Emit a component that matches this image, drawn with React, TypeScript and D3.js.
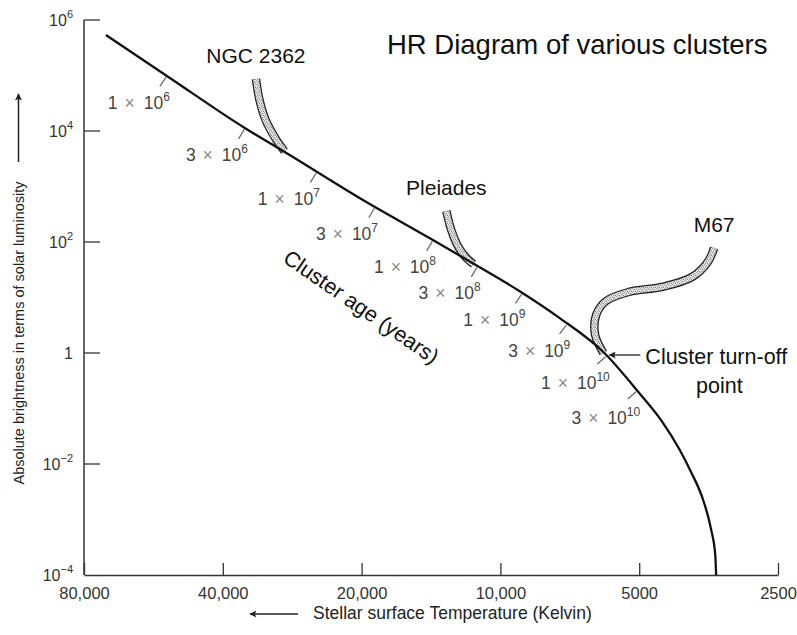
import React, { useRef, useEffect } from "react";
import * as d3 from "d3";

// HR diagram of various clusters, log temperature (reversed) vs log luminosity

const tempTicks = [80000, 40000, 20000, 10000, 5000, 2500];
const tempTickLabels = ["80,000", "40,000", "20,000", "10,000", "5000", "2500"];
const lumTicks = [1e6, 1e4, 1e2, 1, 1e-2, 1e-4];
const lumExponents = ["6", "4", "2", "", "\u22122", "\u22124"];

// main sequence [temperature K, luminosity]
const mainSequence: [number, number][] = [
  [71700, 537000],
  [52100, 90200],
  [35840, 11320],
  [29360, 4190],
  [19700, 548],
  [14250, 118],
  [11500, 41.9],
  [9100, 13.1],
  [7450, 4.3],
  [5950, 1],
  [5000, 0.19],
  [4460, 0.058],
  [4100, 0.019],
  [3860, 0.0072],
  [3630, 0.0022],
  [3490, 0.00065],
  [3420, 0.00023],
  [3405, 0.0001],
];

// cluster branches, from top end down to the main sequence
const ngc2362: [number, number][] = [
  [33900, 86500],
  [33300, 36200],
  [32300, 15800],
  [30600, 6890],
  [29400, 4360],
];
const pleiades: [number, number][] = [
  [13100, 362],
  [12780, 164],
  [12330, 81],
  [11850, 51.5],
  [11440, 40],
];
const m67: [number, number][] = [
  [3440, 78],
  [3550, 43.6],
  [3840, 23.4],
  [4460, 15.5],
  [5260, 12.6],
  [5900, 8.65],
  [6200, 4.84],
  [6230, 2.11],
  [5980, 1],
];
const clusterNames = ["NGC 2362", "Pleiades", "M67"];

// cluster age marks along the main sequence
const ageTemps = [52900, 35800, 25000, 18700, 14000, 11200, 8960, 7160, 5880, 5050];
const ageMantissa = ["1", "3", "1", "3", "1", "3", "1", "3", "1", "3"];
const ageExponents = ["6", "6", "7", "7", "8", "8", "9", "9", "10", "10"];

const FONT = "'Liberation Sans', Arial, Helvetica, sans-serif";

const HRChart = () => {
  const ref = useRef<SVGSVGElement>(null);

  useEffect(() => {
    const svg = d3.select(ref.current);
    svg.selectAll("*").remove();

    const x = d3.scaleLog().domain([80000, 2500]).range([84, 778]);
    const y = d3.scaleLog().domain([1e-4, 1e6]).range([575, 20]);

    const defs = svg.append("defs");
    const pat = defs
      .append("pattern")
      .attr("id", "stipple")
      .attr("patternUnits", "userSpaceOnUse")
      .attr("width", 4)
      .attr("height", 4);
    pat.append("rect").attr("width", 4).attr("height", 4).attr("fill", "#e8e8e8");
    [
      [0.8, 0.8],
      [2.8, 1.6],
      [1.6, 3.0],
      [3.4, 3.5],
    ].forEach(([cx, cy]) =>
      pat.append("circle").attr("cx", cx).attr("cy", cy).attr("r", 0.55).attr("fill", "#555")
    );
    const arrow = defs
      .append("marker")
      .attr("id", "arrowhead")
      .attr("viewBox", "0 0 10 10")
      .attr("refX", 9)
      .attr("refY", 5)
      .attr("markerWidth", 12)
      .attr("markerHeight", 7)
      .attr("markerUnits", "userSpaceOnUse")
      .attr("orient", "auto");
    arrow.append("path").attr("d", "M0,0L10,5L0,10L2,5z").attr("fill", "#222");

    const g = svg.append("g").style("font-family", FONT);

    // x axis
    g.append("g")
      .attr("transform", "translate(0,575)")
      .call(
        d3
          .axisBottom(x)
          .tickValues(tempTicks)
          .tickSizeInner(-12)
          .tickSizeOuter(0)
          .tickPadding(12)
          .tickFormat((d, i) => tempTickLabels[i])
      )
      .call((a) => a.select(".domain").attr("stroke", "#333").attr("stroke-width", 1.5))
      .call((a) => a.selectAll(".tick line").attr("stroke", "#333").attr("stroke-width", 1.3))
      .call((a) =>
        a
          .selectAll(".tick text")
          .attr("fill", "#333")
          .style("font-size", "16.5px")
          .style("font-family", FONT)
      );

    // y axis (drawn by hand for the superscripts)
    const yAxis = g.append("g");
    yAxis
      .append("line")
      .attr("x1", 84)
      .attr("x2", 84)
      .attr("y1", y(1e6))
      .attr("y2", y(1e-4))
      .attr("stroke", "#333")
      .attr("stroke-width", 1.5);
    lumTicks.forEach((v, i) => {
      if (i < lumTicks.length - 1)
        yAxis
          .append("line")
          .attr("x1", 84)
          .attr("x2", 100)
          .attr("y1", y(v))
          .attr("y2", y(v))
          .attr("stroke", "#333")
          .attr("stroke-width", 1.3);
      const t = yAxis
        .append("text")
        .attr("x", 73)
        .attr("y", y(v) + 6)
        .attr("text-anchor", "end")
        .attr("fill", "#333")
        .style("font-size", "16px");
      if (lumExponents[i]) {
        t.append("tspan").text("10");
        t.append("tspan")
          .attr("dy", -8)
          .style("font-size", "11px")
          .text(lumExponents[i]);
      } else {
        t.text("1");
      }
    });

    // axis titles
    g.append("text")
      .attr("transform", "translate(24,333) rotate(-90)")
      .attr("text-anchor", "middle")
      .attr("fill", "#222")
      .style("font-size", "14.5px")
      .text("Absolute brightness in terms of solar luminosity");
    g.append("line")
      .attr("x1", 18.5)
      .attr("x2", 18.5)
      .attr("y1", 162)
      .attr("y2", 94)
      .attr("stroke", "#222")
      .attr("stroke-width", 1.5)
      .attr("marker-end", "url(#arrowhead)");
    g.append("text")
      .attr("x", 313)
      .attr("y", 619)
      .attr("fill", "#222")
      .style("font-size", "17.5px")
      .text("Stellar surface Temperature (Kelvin)");
    g.append("line")
      .attr("x1", 298)
      .attr("x2", 250)
      .attr("y1", 614)
      .attr("y2", 614)
      .attr("stroke", "#222")
      .attr("stroke-width", 1.5)
      .attr("marker-end", "url(#arrowhead)");

    // title
    g.append("text")
      .attr("x", 387)
      .attr("y", 54)
      .attr("fill", "#111")
      .style("font-size", "27.5px")
      .text("HR Diagram of various clusters");

    const line = d3
      .line<[number, number]>()
      .x((d) => x(d[0]))
      .y((d) => y(d[1]))
      .curve(d3.curveCatmullRom.alpha(0.5));

    // cluster branches
    [ngc2362, pleiades, m67].forEach((branch, i) => {
      g.append("path")
        .attr("d", line(branch))
        .attr("fill", "none")
        .attr("stroke", "#222")
        .attr("stroke-width", 8.5);
      g.append("path")
        .attr("d", line(branch))
        .attr("fill", "none")
        .attr("stroke", "url(#stipple)")
        .attr("stroke-width", 6);
      g.append("text")
        .attr("x", x(branch[0][0]))
        .attr("y", y(branch[0][1]) - 16)
        .attr("text-anchor", "middle")
        .attr("fill", "#111")
        .style("font-size", "21px")
        .text(clusterNames[i]);
    });

    // main sequence
    g.append("path")
      .attr("d", d3
        .line<[number, number]>()
        .x((d) => x(d[0]))
        .y((d) => y(d[1]))
        .curve(d3.curveMonotoneX)(mainSequence))
      .attr("fill", "none")
      .attr("stroke", "#111")
      .attr("stroke-width", 2.3);

    // position on the main sequence for a temperature (linear in pixel space)
    const pts = mainSequence.map((d) => [x(d[0]), y(d[1])]);
    const onCurve = (t: number) => {
      const px = x(t);
      for (let k = 0; k < pts.length - 1; k++) {
        const [x0, y0] = pts[k];
        const [x1, y1] = pts[k + 1];
        if (px >= x0 && px <= x1) {
          const f = (px - x0) / (x1 - x0);
          const dx = x1 - x0,
            dy = y1 - y0,
            len = Math.hypot(dx, dy);
          return { px, py: y0 + f * dy, nx: -dy / len, ny: dx / len };
        }
      }
      return { px, py: pts[0][1], nx: -0.5, ny: 0.8 };
    };

    const ages = g.append("g");
    ageTemps.forEach((t, i) => {
      const { px, py, nx, ny } = onCurve(t);
      ages
        .append("line")
        .attr("x1", px + nx * 1.5)
        .attr("y1", py + ny * 1.5)
        .attr("x2", px + nx * 12.5)
        .attr("y2", py + ny * 12.5)
        .attr("stroke", "#666")
        .attr("stroke-width", 1.2);
      const t2 = ages
        .append("text")
        .attr("x", px + 3)
        .attr("y", py + 33)
        .attr("text-anchor", "end")
        .attr("fill", "#444")
        .style("font-size", "17.5px");
      t2.append("tspan").text(ageMantissa[i]);
      t2.append("tspan").attr("dx", 7).attr("fill", "#888").text("\u00d7");
      t2.append("tspan").attr("dx", 9).text("10");
      t2.append("tspan").attr("dy", -8).style("font-size", "12px").text(ageExponents[i]);
    });

    // cluster age label
    g.append("text")
      .attr("transform", "translate(357,313) rotate(34.5)")
      .attr("text-anchor", "middle")
      .attr("fill", "#111")
      .style("font-size", "21.5px")
      .text("Cluster age (years)");

    // turn-off point annotation
    const to = m67[m67.length - 1];
    const tx = x(to[0]),
      ty = y(to[1]);
    g.append("line")
      .attr("x1", tx + 37)
      .attr("x2", tx + 6)
      .attr("y1", ty + 2)
      .attr("y2", ty + 2)
      .attr("stroke", "#222")
      .attr("stroke-width", 1.3)
      .attr("marker-end", "url(#arrowhead)");
    g.append("text")
      .attr("x", tx + 42)
      .attr("y", ty + 11)
      .attr("fill", "#111")
      .style("font-size", "21.5px")
      .text("Cluster turn-off");
    g.append("text")
      .attr("x", tx + 116)
      .attr("y", ty + 40)
      .attr("text-anchor", "middle")
      .attr("fill", "#111")
      .style("font-size", "21.5px")
      .text("point");
  }, []);

  return (
    <svg
      ref={ref}
      width={797}
      height={635}
      style={{ position: "absolute", left: 0, top: 0, background: "#fff" }}
    />
  );
};

export default function App() {
  return <HRChart />;
}
